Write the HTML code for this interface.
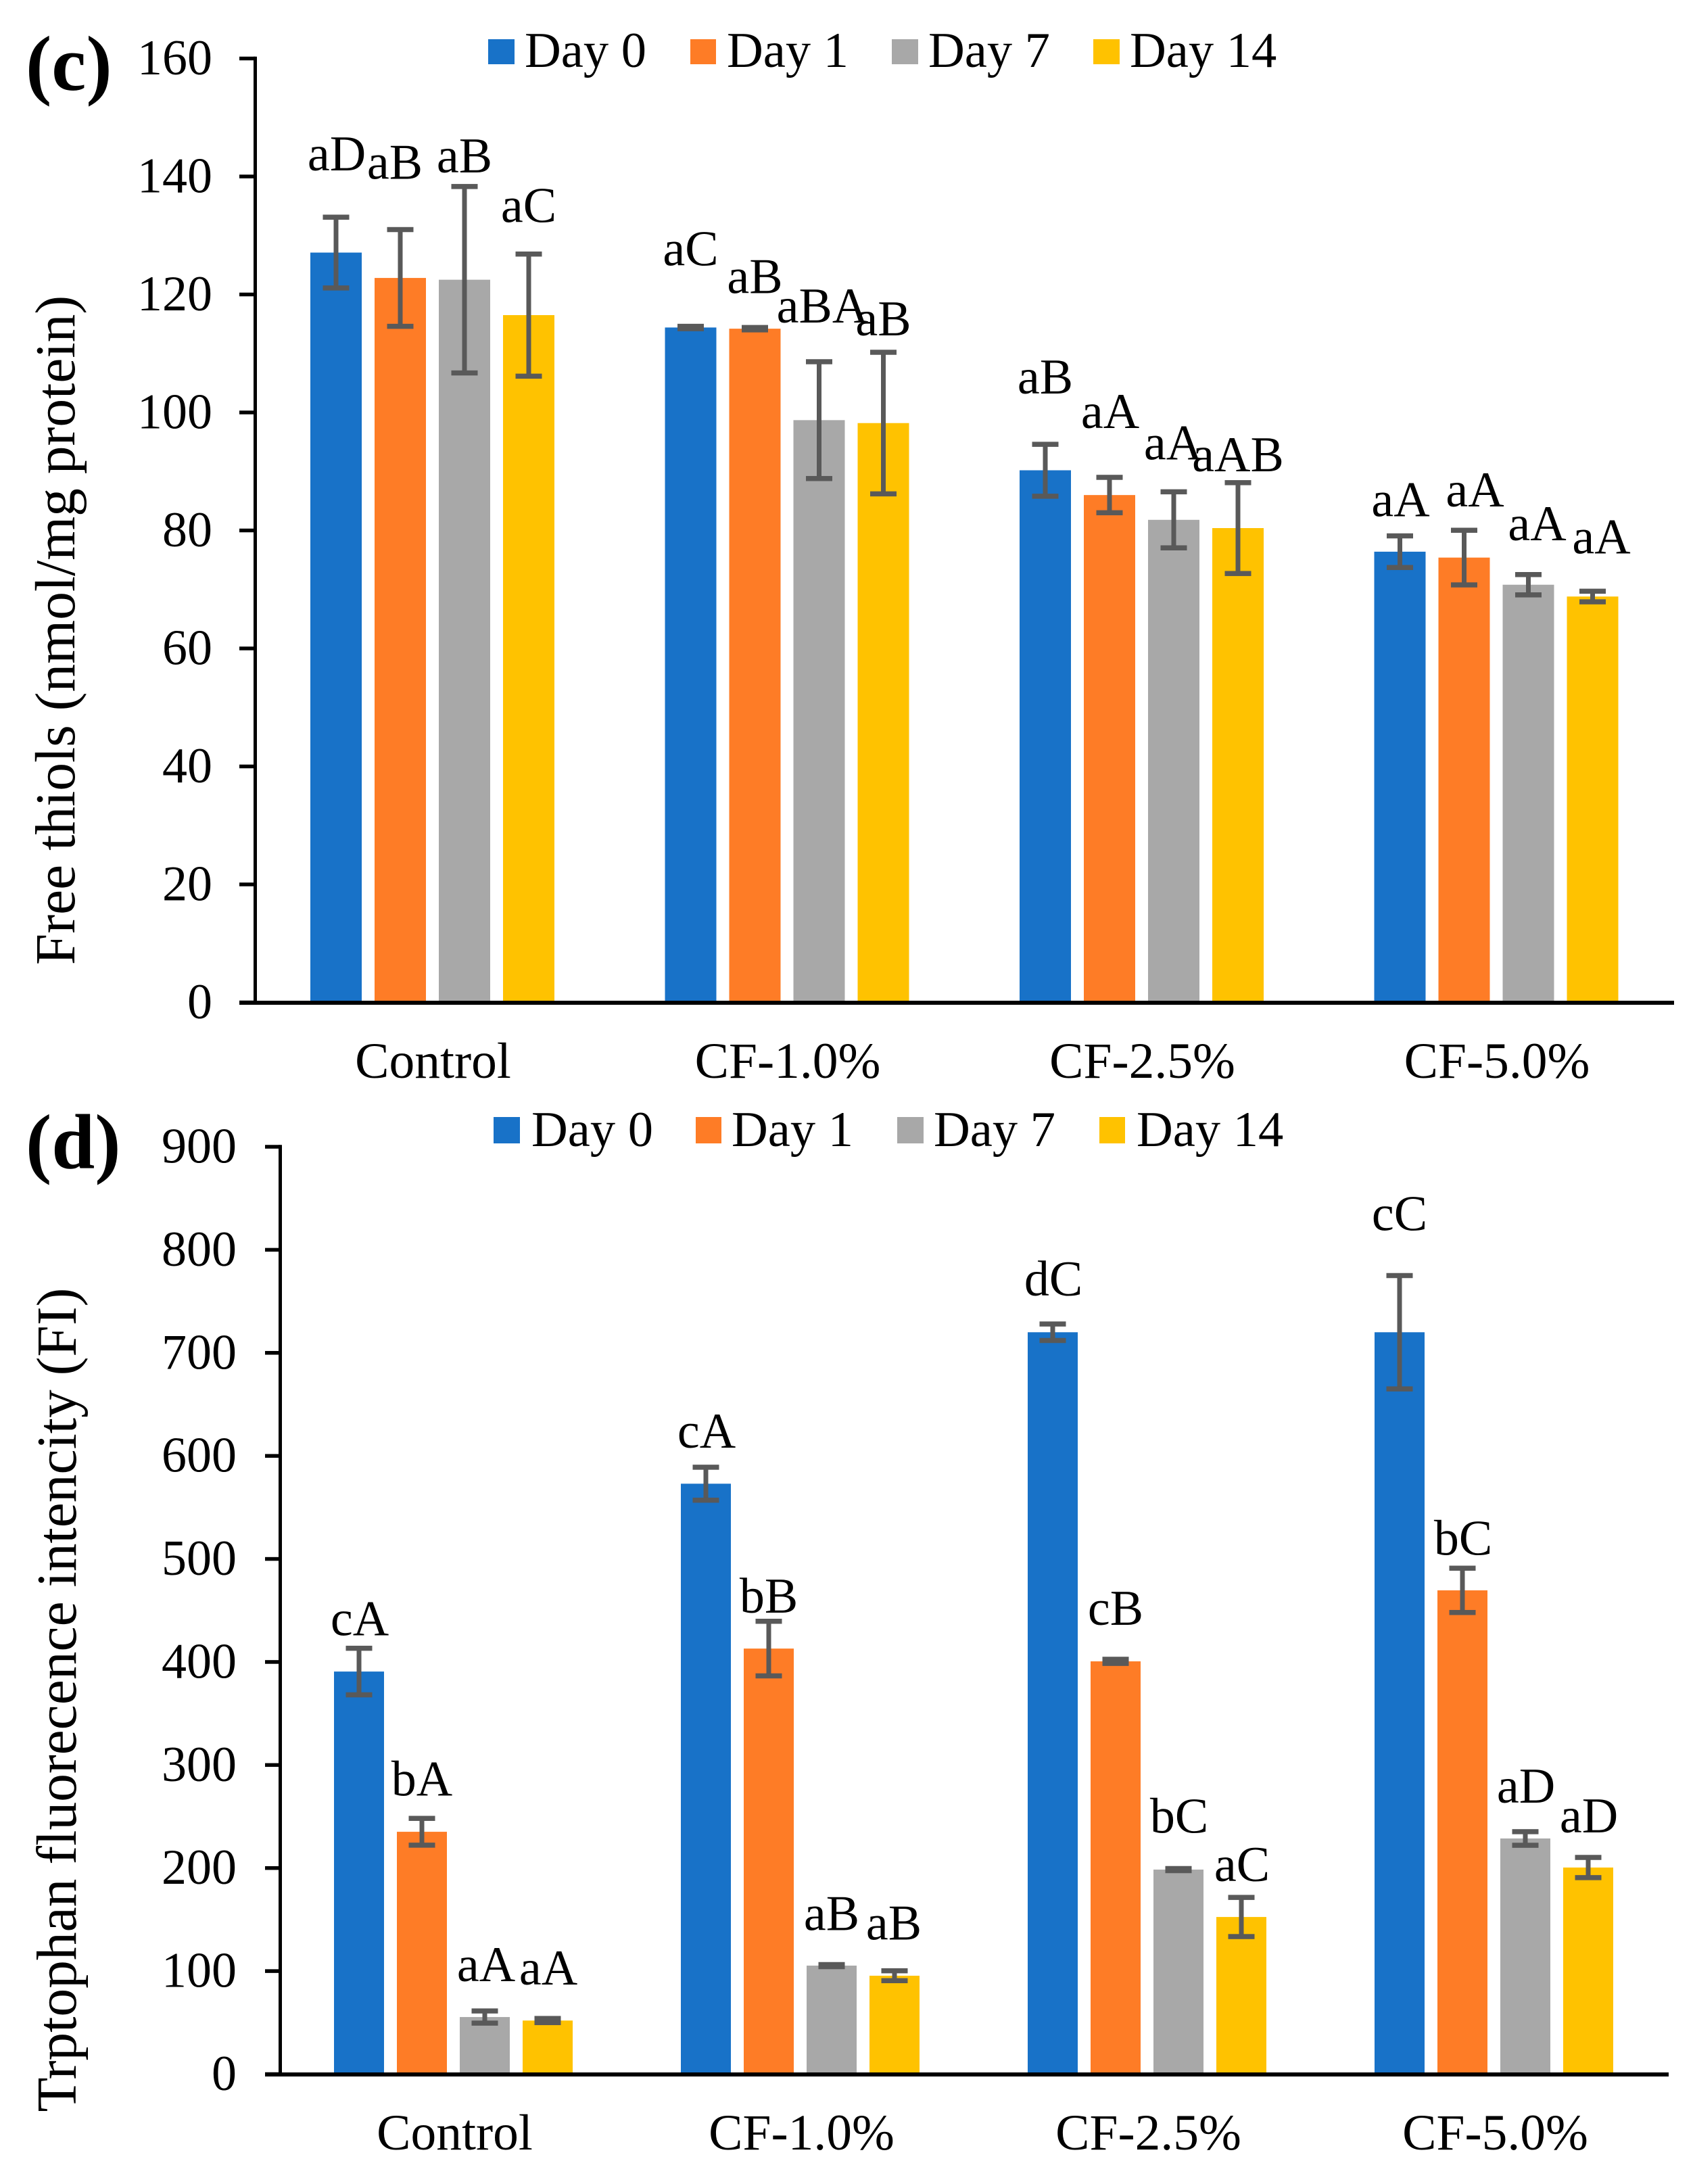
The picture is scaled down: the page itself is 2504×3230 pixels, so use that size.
<!DOCTYPE html>
<html lang="en">
<head>
<meta charset="utf-8">
<title>Free thiols and tryptophan fluorescence</title>
<style>
  html, body { margin: 0; padding: 0; background: #fff; }
  svg { display: block; }
  text { font-family: "Liberation Serif", serif; fill: #000; }
  .tick, .note { font-size: 74px; }
  .legend { font-size: 74.5px; }
  .group { font-size: 75.5px; }
  .title { font-size: 83.5px; }
  .panel { font-size: 115px; font-weight: bold; }
</style>
</head>
<body>
<svg id="fig" xmlns="http://www.w3.org/2000/svg" width="2504" height="3230" viewBox="0 0 2504 3230">
  <rect width="2504" height="3230" fill="#fff"/>

  <text class="panel" x="38" y="133">(c)</text>
  <text class="title" transform="translate(110 932) rotate(-90)" text-anchor="middle">Free thiols (nmol/mg protein)</text>
  <g>
    <rect x="722" y="58" width="39" height="37" fill="#1872C8"/>
    <text class="legend" x="776" y="99">Day 0</text>
    <rect x="1021" y="58" width="38" height="37" fill="#FE7C26"/>
    <text class="legend" x="1075" y="99">Day 1</text>
    <rect x="1319" y="58" width="39" height="37" fill="#A8A8A8"/>
    <text class="legend" x="1373" y="99">Day 7</text>
    <rect x="1617" y="58" width="39" height="37" fill="#FFC200"/>
    <text class="legend" x="1671" y="99">Day 14</text>
  </g>

  <text class="panel" x="38" y="1728">(d)</text>
  <text class="title" transform="translate(112 2514) rotate(-90)" text-anchor="middle">Trptophan fluorecence intencity (FI)</text>
  <g>
    <rect x="730" y="1652" width="39" height="39" fill="#1872C8"/>
    <text class="legend" x="786" y="1695">Day 0</text>
    <rect x="1029" y="1652" width="38" height="39" fill="#FE7C26"/>
    <text class="legend" x="1082" y="1695">Day 1</text>
    <rect x="1327" y="1652" width="39" height="39" fill="#A8A8A8"/>
    <text class="legend" x="1381" y="1695">Day 7</text>
    <rect x="1626" y="1652" width="38" height="39" fill="#FFC200"/>
    <text class="legend" x="1681" y="1695">Day 14</text>
  </g>
</svg>

<script>
// ---- shared data ----
const categories = ["Control", "CF-1.0%", "CF-2.5%", "CF-5.0%"];
const seriesNames = ["day-0", "day-1", "day-7", "day-14"];

// ---- panel (c): free thiols ----
const thiolsTicks = [0, 20, 40, 60, 80, 100, 120, 140, 160];
const thiolsDay0 = [127.1, 114.4, 90.2, 76.4];
const thiolsDay1 = [122.8, 114.2, 86.0, 75.4];
const thiolsDay7 = [122.5, 98.7, 81.8, 70.8];
const thiolsDay14 = [116.5, 98.2, 80.4, 68.8];
const thiolsErrDay0 = [6.0, 0.2, 4.4, 2.68];
const thiolsErrDay1 = [8.2, 0.2, 3.0, 4.63];
const thiolsErrDay7 = [15.8, 9.9, 4.75, 1.72];
const thiolsErrDay14 = [10.35, 12.0, 7.7, 0.9];
const thiolsLettersDay0 = ["aD", "aC", "aB", "aA"];
const thiolsLettersDay1 = ["aB", "aB", "aA", "aA"];
const thiolsLettersDay7 = ["aB", "aBA", "aA", "aA"];
const thiolsLettersDay14 = ["aC", "aB", "aAB", "aA"];

// ---- panel (d): tryptophan fluorescence ----
const tryptophanTicks = [0, 100, 200, 300, 400, 500, 600, 700, 800, 900];
const tryptophanDay0 = [390.7, 573, 720, 720];
const tryptophanDay1 = [235.2, 413, 400.6, 469.5];
const tryptophanDay7 = [55.4, 105.3, 198.5, 228.7];
const tryptophanDay14 = [52, 95.5, 152.5, 200.5];
const tryptophanErrDay0 = [22.6, 16, 8, 55];
const tryptophanErrDay1 = [13, 26.5, 2, 21.5];
const tryptophanErrDay7 = [5.9, 1, 1, 6.6];
const tryptophanErrDay14 = [2, 4.8, 19, 9.8];
const tryptophanLettersDay0 = ["cA", "cA", "dC", "cC"];
const tryptophanLettersDay1 = ["bA", "bB", "cB", "bC"];
const tryptophanLettersDay7 = ["aA", "aB", "bC", "aD"];
const tryptophanLettersDay14 = ["aA", "aB", "aC", "aD"];

// ---- layout (not data) ----
const seriesColors = ["#1872C8", "#FE7C26", "#A8A8A8", "#FFC200"];
const thiolsLayout = {
  name: "thiols",
  axisX: 377.5, tickLeft: 354, axisRight: 2476,
  yTop: 86.5, yZero: 1482.5, yMax: 160,
  groupStart: 459, groupStep: 524.5, barWidth: 76, barStep: 95,
  capWidth: 39, capHeight: 7.5, tickLabelRight: 314, categoryBaseline: 1594,
  categoryShift: 1,
  noteLift: [[69, 90, 75, 29], [75, 51, 73, 35], [21, 58, 48, 51], [47, 25, 17, 56]],
  noteShift: [[1, 0, 0, 1], [-8, 0, 1, 16], [0, 5, -1, 13], [0, 0, 0, 13]]
};
const tryptophanLayout = {
  name: "tryptophan",
  axisX: 414.5, tickLeft: 392, axisRight: 2468,
  yTop: 1696, yZero: 3067.5, yMax: 900,
  groupStart: 494, groupStep: 513, barWidth: 74, barStep: 93,
  capWidth: 39, capHeight: 7.5, tickLabelRight: 350, categoryBaseline: 3179,
  categoryShift: 2,
  noteLift: [[19, 29, 42, 67], [34, 13, 51, 20], [44, 51, 53, 43], [50, 46, 24, 37]],
  noteShift: [[1, 1, 1, 0], [0, 0, 0, 1], [2, 0, 1, 1], [1, -1, 1, 1]]
};

const svg = document.getElementById("fig");
const NS = "http://www.w3.org/2000/svg";

function make(tag, attrs, parent) {
  const el = document.createElementNS(NS, tag);
  for (const k in attrs) el.setAttribute(k, attrs[k]);
  parent.appendChild(el);
  return el;
}

function drawChart(layout, ticks, values, errors, letters) {
  const yScale = v => layout.yZero - (v / layout.yMax) * (layout.yZero - layout.yTop);
  const barLeft = (g, s) => layout.groupStart + g * layout.groupStep + s * layout.barStep;

  const chart = make("g", {}, svg);
  
  

  values.forEach((series, s) => {
    series.forEach((value, g) => {
      const bar = make("rect", {
        x: barLeft(g, s),
        y: yScale(value),
        width: layout.barWidth,
        height: layout.yZero - yScale(value),
        fill: seriesColors[s]
      }, chart);
      
      
    });
  });

  values.forEach((series, s) => {
    series.forEach((value, g) => {
      const cx = barLeft(g, s) + layout.barWidth / 2;
      const hi = yScale(value + errors[s][g]);
      const lo = yScale(value - errors[s][g]);

      const stem = make("rect", {
        x: cx - 3.5, y: hi, width: 7, height: lo - hi, fill: "#595959"
      }, chart);
      
      

      const capTop = make("rect", {
        x: cx - layout.capWidth / 2, y: hi - layout.capHeight / 2,
        width: layout.capWidth, height: layout.capHeight, fill: "#595959"
      }, chart);
      
      

      const capBottom = make("rect", {
        x: cx - layout.capWidth / 2, y: lo - layout.capHeight / 2,
        width: layout.capWidth, height: layout.capHeight, fill: "#595959"
      }, chart);
      
      

      const note = make("text", {
        "class": "note",
        x: cx + layout.noteShift[s][g],
        y: hi - layout.noteLift[s][g],
        "text-anchor": "middle"
      }, chart);
      note.textContent = letters[s][g];
      
      
    });
  });

  const yAxis = make("rect", {
    x: layout.axisX - 2.5, y: layout.yTop - 2.75, width: 5,
    height: layout.yZero - layout.yTop + 5, fill: "#000"
  }, chart);
  
  

  const xAxis = make("rect", {
    x: layout.tickLeft, y: layout.yZero - 2.5,
    width: layout.axisRight - layout.tickLeft, height: 6, fill: "#000"
  }, chart);
  
  

  ticks.forEach(t => {
    const y = yScale(t);
    const mark = make("rect", {
      x: layout.tickLeft, y: y - 2.75, width: layout.axisX - layout.tickLeft, height: 5.5, fill: "#000"
    }, chart);
    
    

    const label = make("text", {
      "class": "tick", x: layout.tickLabelRight, y: y + 23.5, "text-anchor": "end"
    }, chart);
    label.textContent = String(t);
    
    
  });

  categories.forEach((cat, g) => {
    const groupWidth = 3 * layout.barStep + layout.barWidth;
    const label = make("text", {
      "class": "group",
      x: barLeft(g, 0) + groupWidth / 2 + layout.categoryShift,
      y: layout.categoryBaseline,
      "text-anchor": "middle"
    }, chart);
    label.textContent = cat;
    
    
  });
}

drawChart(
  thiolsLayout,
  thiolsTicks,
  [thiolsDay0, thiolsDay1, thiolsDay7, thiolsDay14],
  [thiolsErrDay0, thiolsErrDay1, thiolsErrDay7, thiolsErrDay14],
  [thiolsLettersDay0, thiolsLettersDay1, thiolsLettersDay7, thiolsLettersDay14]
);
drawChart(
  tryptophanLayout,
  tryptophanTicks,
  [tryptophanDay0, tryptophanDay1, tryptophanDay7, tryptophanDay14],
  [tryptophanErrDay0, tryptophanErrDay1, tryptophanErrDay7, tryptophanErrDay14],
  [tryptophanLettersDay0, tryptophanLettersDay1, tryptophanLettersDay7, tryptophanLettersDay14]
);
</script>
</body>
</html>
